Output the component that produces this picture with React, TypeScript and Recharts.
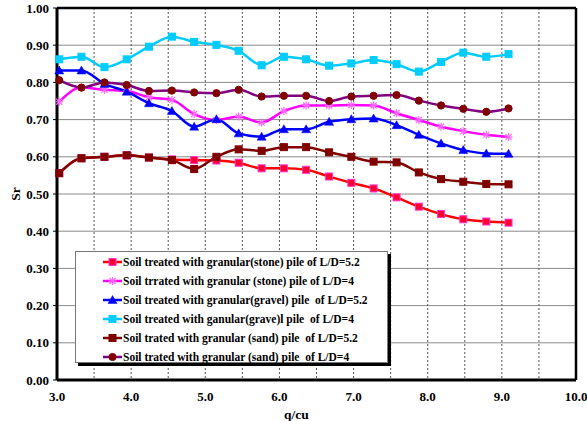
import React from 'react';
import { LineChart, Line, XAxis, YAxis, CartesianGrid, ReferenceLine, Legend } from 'recharts';

const qcu = [3.03, 3.33, 3.64, 3.94, 4.24, 4.55, 4.85, 5.15, 5.45, 5.76, 6.06, 6.36, 6.67, 6.97, 7.27, 7.58, 7.88, 8.18, 8.48, 8.79, 9.09];
const stoneLD52 = [0.556, 0.596, 0.600, 0.604, 0.598, 0.593, 0.591, 0.590, 0.584, 0.569, 0.569, 0.565, 0.547, 0.530, 0.515, 0.491, 0.466, 0.446, 0.432, 0.426, 0.423];
const stoneLD4 = [0.748, 0.786, 0.780, 0.777, 0.760, 0.753, 0.715, 0.699, 0.708, 0.692, 0.723, 0.738, 0.738, 0.739, 0.738, 0.717, 0.699, 0.681, 0.669, 0.659, 0.653];
const gravelLD52 = [0.832, 0.832, 0.796, 0.775, 0.744, 0.723, 0.681, 0.701, 0.663, 0.654, 0.674, 0.674, 0.694, 0.701, 0.703, 0.685, 0.659, 0.636, 0.618, 0.609, 0.608];
const gravelLD4 = [0.862, 0.869, 0.841, 0.862, 0.896, 0.923, 0.909, 0.901, 0.885, 0.846, 0.869, 0.862, 0.845, 0.851, 0.860, 0.849, 0.829, 0.855, 0.880, 0.869, 0.876];
const sandLD52 = [0.556, 0.596, 0.600, 0.604, 0.598, 0.591, 0.567, 0.600, 0.620, 0.616, 0.626, 0.626, 0.612, 0.600, 0.587, 0.585, 0.558, 0.540, 0.533, 0.527, 0.526];
const sandLD4 = [0.806, 0.786, 0.800, 0.793, 0.777, 0.778, 0.773, 0.771, 0.780, 0.762, 0.764, 0.764, 0.750, 0.762, 0.764, 0.766, 0.751, 0.738, 0.729, 0.721, 0.730];

const xTicks = [3, 3.5, 4, 4.5, 5, 5.5, 6, 6.5, 7, 7.5, 8, 8.5, 9, 9.5, 10];
const yTicks = [0, 0.1, 0.2, 0.3, 0.4, 0.5, 0.6, 0.7, 0.8, 0.9, 1.0];

const data = qcu.map((q, i) => ({
  q,
  s1: stoneLD52[i],
  s2: stoneLD4[i],
  s3: gravelLD52[i],
  s4: gravelLD4[i],
  s5: sandLD52[i],
  s6: sandLD4[i],
}));

type Marker = 'square' | 'star' | 'triangle' | 'circle';

const series = [
  { key: 's1', name: 'Soil treated with granular(stone) pile of L/D=5.2', stroke: '#FF0000', fill: '#FF0033', edge: '#FF33CC', marker: 'square' as Marker },
  { key: 's2', name: 'Soil trrated with granular (stone) pile of L/D=4', stroke: '#FF00FF', fill: '#FF66FF', edge: '#FF66FF', marker: 'star' as Marker },
  { key: 's3', name: 'Soil treated with granular(gravel) pile  of L/D=5.2', stroke: '#0000FF', fill: '#0000FF', edge: '#0000FF', marker: 'triangle' as Marker },
  { key: 's4', name: 'Soil treated with ganular(grave)l pile  of L/D=4', stroke: '#00CCFF', fill: '#00CCFF', edge: '#00CCFF', marker: 'square' as Marker },
  { key: 's5', name: 'Soil trated with granular (sand) pile  of L/D=5.2', stroke: '#800000', fill: '#800000', edge: '#800000', marker: 'square' as Marker },
  { key: 's6', name: 'Soil trated with granular (sand) pile  of L/D=4', stroke: '#800080', fill: '#800000', edge: '#800000', marker: 'circle' as Marker },
];

const FONT = '"Liberation Serif", "Times New Roman", serif';

function drawMarker(marker: Marker, cx: number, cy: number, fill: string, edge: string, key?: string) {
  if (marker === 'square') {
    return <rect key={key} x={cx - 3.5} y={cy - 3.5} width={7} height={7} fill={fill} stroke={edge} strokeWidth={1} />;
  }
  if (marker === 'triangle') {
    return <path key={key} d={`M${cx},${cy - 4.5} L${cx + 4.5},${cy + 3.5} L${cx - 4.5},${cy + 3.5} Z`} fill={fill} stroke={edge} strokeWidth={0.5} />;
  }
  if (marker === 'circle') {
    return <circle key={key} cx={cx} cy={cy} r={3.6} fill={fill} stroke={edge} />;
  }
  return (
    <g key={key} stroke={edge} strokeWidth={1.2}>
      <line x1={cx - 4} y1={cy} x2={cx + 4} y2={cy} />
      <line x1={cx} y1={cy - 4} x2={cx} y2={cy + 4} />
      <line x1={cx - 3} y1={cy - 3} x2={cx + 3} y2={cy + 3} />
      <line x1={cx - 3} y1={cy + 3} x2={cx + 3} y2={cy - 3} />
    </g>
  );
}

const makeDot = (s: typeof series[number]) => (props: any) => {
  const { cx, cy, index } = props;
  if (cx == null || cy == null) return <g key={`${s.key}-${index}`} />;
  return drawMarker(s.marker, cx, cy, s.fill, s.edge, `${s.key}-${index}`);
};

const LegendBox = () => (
  <div
    style={{
      width: 313,
      height: 112,
      background: '#fff',
      border: '1px solid #777',
      boxShadow: '3px 3px 0 #000',
      boxSizing: 'border-box',
      fontFamily: FONT,
      fontWeight: 'bold',
      fontSize: 11.5,
      color: '#000',
      paddingTop: 0,
    }}
  >
    {series.map((s) => (
      <div key={s.key} style={{ height: 19, display: 'flex', alignItems: 'center', paddingLeft: 27, whiteSpace: 'pre' }}>
        <svg width={19} height={10} style={{ marginRight: 1 }}>
          <line x1={0} y1={5} x2={19} y2={5} stroke={s.stroke} strokeWidth={2.5} />
          {drawMarker(s.marker, 9.5, 5, s.fill, s.edge)}
        </svg>
        <span>{s.name}</span>
      </div>
    ))}
  </div>
);

export default function App() {
  return (
    <div style={{ position: 'absolute', left: 0, top: 0, width: 587, height: 421, background: '#fff' }}>
      <LineChart width={587} height={421} data={data} margin={{ top: 8, right: 11, bottom: 0, left: 0 }}>
        <CartesianGrid horizontal={true} vertical={false} stroke="#8a8a8a" strokeWidth={1} />
        <CartesianGrid horizontal={false} vertical={true} stroke="#555" strokeDasharray="2 2" strokeWidth={1} />
        <XAxis
          dataKey="q"
          type="number"
          domain={[3, 10]}
          ticks={xTicks}
          interval={0}
          tickFormatter={(v: number) => (Number.isInteger(v) ? v.toFixed(1) : '')}
          height={41}
          axisLine={{ stroke: '#000', strokeWidth: 3 }}
          tickLine={false}
          tickSize={4}
          tickMargin={8}
          tick={{ fontFamily: FONT, fontWeight: 'bold', fontSize: 13, fill: '#000' }}
          label={{ value: 'q/cu', position: 'insideBottom', offset: 2, dx: -20, style: { fontFamily: FONT, fontWeight: 'bold', fontSize: 13.5, fill: '#000' } }}
        />
        <YAxis
          type="number"
          domain={[0, 1]}
          ticks={yTicks}
          interval={0}
          width={57}
          tickFormatter={(v: number) => v.toFixed(2)}
          axisLine={{ stroke: '#000', strokeWidth: 3 }}
          tickLine={{ stroke: '#000' }}
          tickSize={4}
          tickMargin={4}
          tick={{ fontFamily: FONT, fontWeight: 'bold', fontSize: 13, fill: '#000' }}
          label={{ value: 'Sr', angle: -90, position: 'insideLeft', offset: 15, style: { fontFamily: FONT, fontWeight: 'bold', fontSize: 13.5, fill: '#000', textAnchor: 'middle' } }}
        />
        <ReferenceLine y={1} stroke="#000" strokeWidth={2.5} />
        <ReferenceLine x={10} stroke="#000" strokeWidth={2.5} />
        {series.map((s) => (
          <Line
            key={s.key}
            type="monotone"
            dataKey={s.key}
            name={s.name}
            stroke={s.stroke}
            strokeWidth={2.5}
            dot={makeDot(s)}
            activeDot={false}
            isAnimationActive={false}
          />
        ))}
        <Legend
          layout="vertical"
          align="center"
          verticalAlign="middle"
          content={() => <LegendBox />}
          wrapperStyle={{ position: 'absolute', left: 75, top: 251, width: 316, height: 115 }}
        />
      </LineChart>
    </div>
  );
}
